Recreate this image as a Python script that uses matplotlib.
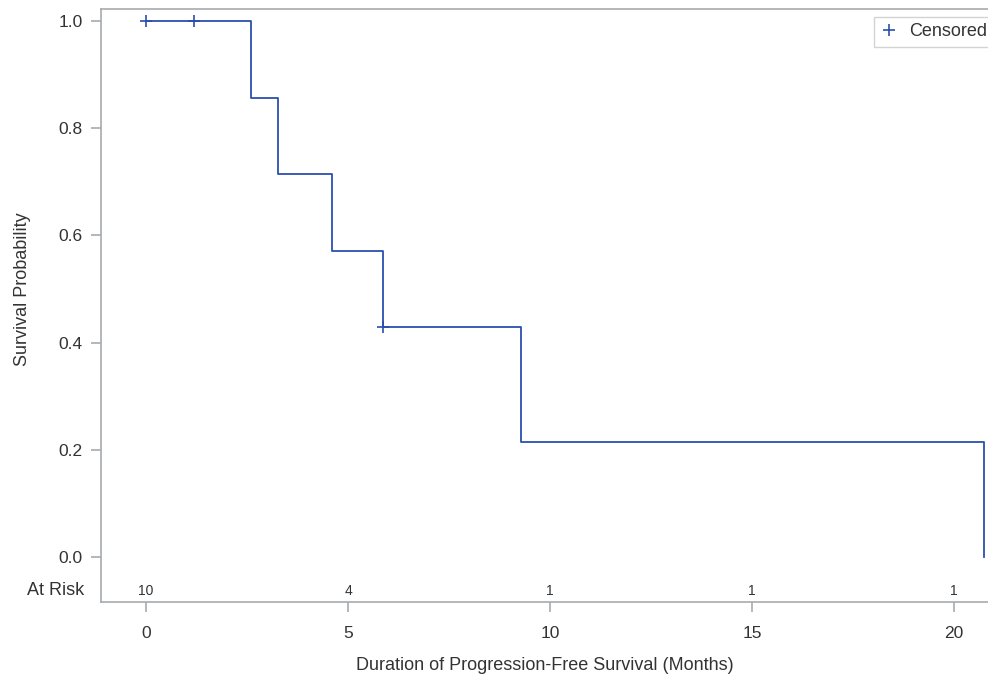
import matplotlib
matplotlib.use("Agg")
import matplotlib.pyplot as plt
import matplotlib.transforms as mtrans
from matplotlib.lines import Line2D

# Data
event_times = [0, 2.6, 3.27, 4.6, 5.87, 9.28, 20.75]
survival = [1.0, 0.857, 0.714, 0.571, 0.429, 0.214, 0.0]
censor_times = [0, 1.2, 5.87]
censor_surv = [1.0, 1.0, 0.429]
risk_times = [0, 5, 10, 15, 20]
risk_counts = [10, 4, 1, 1, 1]
x_ticks = [0, 5, 10, 15, 20]
y_ticks = [0.0, 0.2, 0.4, 0.6, 0.8, 1.0]

plt.rcParams['font.family'] = ['Liberation Sans', 'DejaVu Sans']

blue = '#2A4FAF'
gray = '#A8ABAE'
txt = '#333333'

fig = plt.figure(figsize=(9.88, 6.82), dpi=100)
ax = fig.add_axes([101/988, 1-602/682, 887/988, 593/682])

ax.step(event_times, survival, where='post', color=blue, lw=1.3)
ax.plot(censor_times, censor_surv, ls='none', marker='+', color=blue,
        markersize=9, markeredgewidth=1.2)

ax.set_xlim(-1.114, 20.84)
ax.set_ylim(-0.084, 1.0224)
ax.set_xticks(x_ticks)
ax.set_yticks(y_ticks)
ax.set_yticklabels([f"{v:.1f}" for v in y_ticks])

for s in ['left', 'bottom', 'top']:
    ax.spines[s].set_color(gray)
    ax.spines[s].set_linewidth(1.2)
ax.spines['right'].set_visible(False)
ax.tick_params(axis='both', colors=gray, length=7, width=1.2, labelsize=12.5,
               labelcolor=txt)
ax.tick_params(axis='x', pad=10)
ax.tick_params(axis='y', pad=6)

ax.set_xlabel('Duration of Progression-Free Survival (Months)', fontsize=13,
              color=txt, labelpad=12)
ax.set_ylabel('Survival Probability', fontsize=13, color=txt, labelpad=10)
ax.yaxis.set_label_coords(-0.079, (0.5 + 0.084) / 1.1064)

# At-risk row
for t, c in zip(risk_times, risk_counts):
    ax.text(t, -0.063, str(c), ha='center', va='center', fontsize=10, color=txt)
bt = mtrans.blended_transform_factory(ax.transAxes, ax.transData)
ax.text(-0.019, -0.063, 'At Risk', ha='right', va='center', fontsize=13,
        color=txt, transform=bt)

handle = Line2D([], [], ls='none', marker='+', color=blue, markersize=9,
                markeredgewidth=1.2)
leg = ax.legend([handle], ['Censored'], loc='upper right',
                bbox_to_anchor=(1.006, 0.9865), borderaxespad=0,
                fancybox=False, fontsize=13, handlelength=1.0,
                handletextpad=0.6, borderpad=0.35, labelcolor=txt)
leg.get_frame().set_edgecolor('#C8C8C8')
leg.get_frame().set_linewidth(1.0)

fig.savefig('out.png', dpi=100)
